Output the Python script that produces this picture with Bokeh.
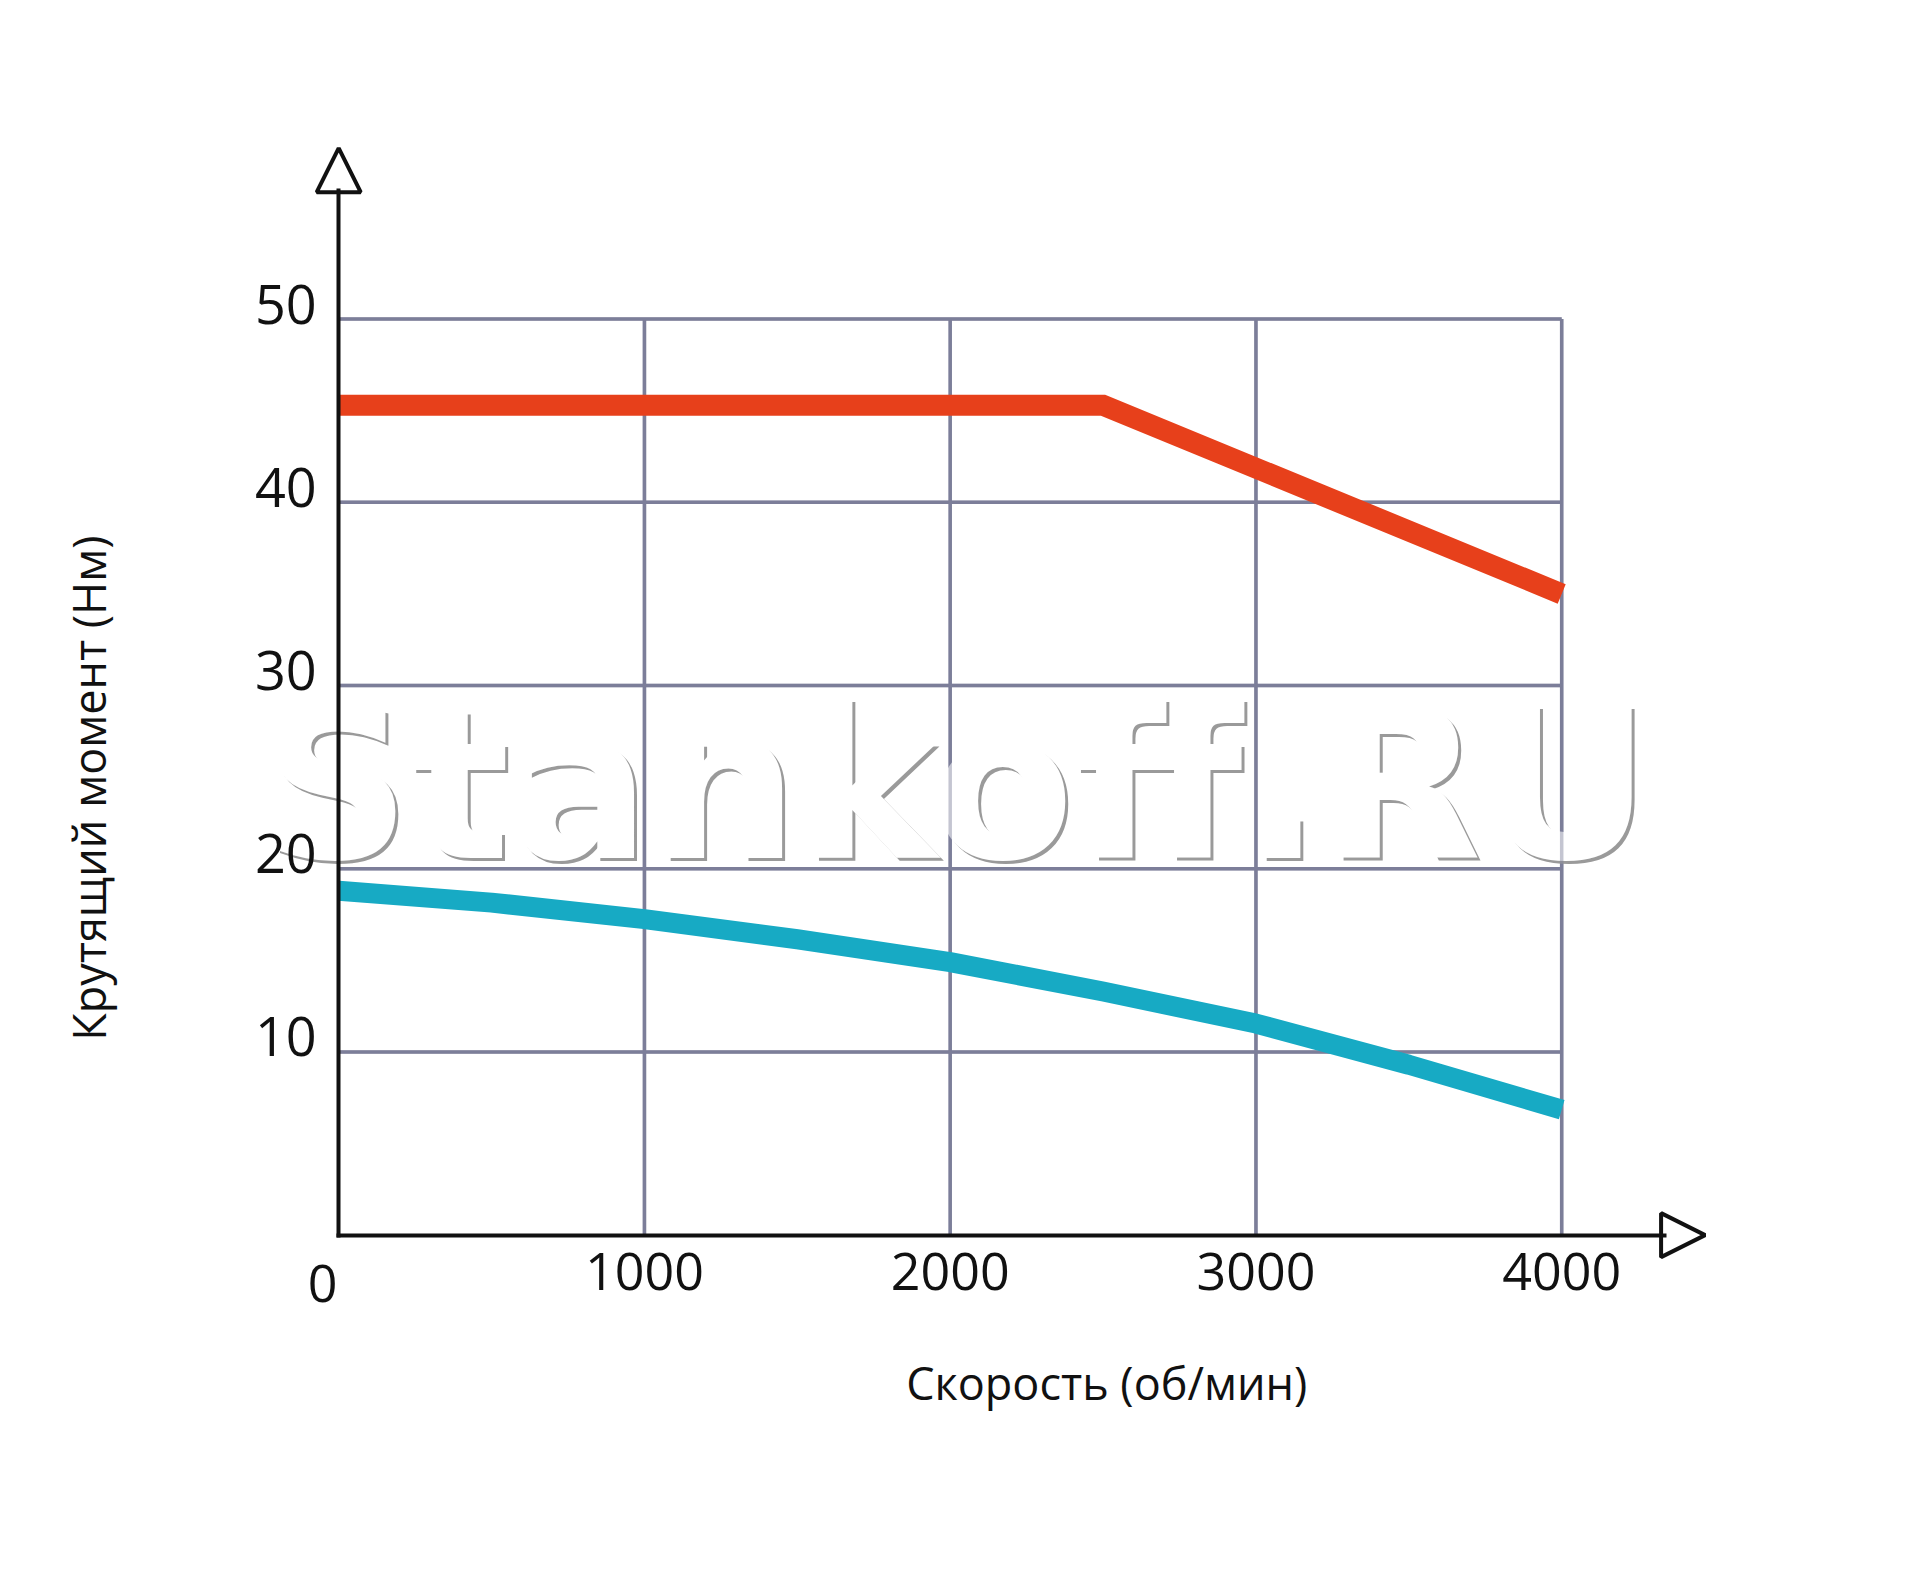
import numpy as np
from bokeh.plotting import figure
from bokeh.models import Range1d, FixedTicker, Arrow, NormalHead
from bokeh.embed import file_html
from bokeh.resources import INLINE
from bokeh.core.properties import value

# ---- data ----
speed_ticks = [1000, 2000, 3000, 4000]          # об/мин
torque_ticks = [10, 20, 30, 40, 50]             # Нм
torque_labels = ["10", "20", "30", "40", "50"]

red_speed = [0, 2500, 4000]
red_torque = [45.3, 45.3, 35.0]

teal_speed = [0, 500, 1000, 1500, 2000, 2500, 3000, 3500, 4000]
teal_torque = [18.8, 18.15, 17.25, 16.15, 14.9, 13.3, 11.55, 9.3, 6.85]

x_title = "Скорость (об/мин)"
y_title = "Крутящий момент (Нм)"
origin_label = "0"
watermark = "Stankoff.RU"

# ---- styles ----
INK = "#111111"
GRID = "#7C7F9A"
RED = "#E7401B"
TEAL = "#17AAC4"
FONT = "Open Sans"

p = figure(width=1900, height=1560,
           x_range=Range1d(-975.3, 5042.7), y_range=Range1d(-11.21, 66.30),
           output_backend="svg", toolbar_location=None,
           min_border_left=40, min_border_right=20,
           min_border_top=20, min_border_bottom=120)
p.background_fill_color = "white"
p.border_fill_color = "white"
p.outline_line_color = None
p.xgrid.visible = False
p.ygrid.visible = False

x_max = max(speed_ticks)
y_max = max(torque_ticks)

def draw_grid(alpha):
    p.segment(x0=speed_ticks, y0=[0] * len(speed_ticks),
              x1=speed_ticks, y1=[y_max] * len(speed_ticks),
              line_color=GRID, line_width=3.5, line_alpha=alpha)
    p.segment(x0=[0] * len(torque_ticks), y0=torque_ticks,
              x1=[x_max] * len(torque_ticks), y1=torque_ticks,
              line_color=GRID, line_width=3.5, line_alpha=alpha)

draw_grid(1.0)

# watermark (shadow + white face); grid shows faintly through it
wm_x, wm_y = 2018, 24.49
wm_style = dict(text_font=value("DejaVu Sans"), text_font_style="bold",
                text_font_size="208px", text_align="center", text_baseline="middle")
p.text(x=[wm_x], y=[wm_y], text=[watermark], text_color="#9a9a9a",
       x_offset=3, y_offset=3, **wm_style)
p.text(x=[wm_x], y=[wm_y], text=[watermark], text_color="white", **wm_style)
draw_grid(0.45)

# data lines
p.line(teal_speed, teal_torque, line_color=TEAL, line_width=20,
       line_cap="butt", line_join="round")
p.line(red_speed, red_torque, line_color=RED, line_width=21,
       line_cap="butt", line_join="miter")

# x axis (Bokeh axis at y = 0)
xa = p.xaxis[0]
xa.ticker = FixedTicker(ticks=speed_ticks)
xa.fixed_location = 0
xa.bounds = (0, 4335)
xa.axis_line_color = INK
xa.axis_line_width = 4
xa.axis_line_cap = "square"
xa.major_tick_line_color = None
xa.minor_tick_line_color = None
xa.major_label_text_font = FONT
xa.major_label_text_font_size = "52px"
xa.major_label_text_color = INK
xa.major_label_standoff = 12

# y axis line (Bokeh axis at x = 0); its labels sit above the grid lines
ya = p.yaxis[0]
ya.ticker = FixedTicker(ticks=[])
ya.fixed_location = 0
ya.bounds = (0, 57.0)
ya.axis_line_color = INK
ya.axis_line_width = 4
ya.axis_line_cap = "square"
ya.major_tick_line_color = None
ya.minor_tick_line_color = None
ya.major_label_standoff = 0

p.text(x=[0] * len(torque_ticks), y=torque_ticks, text=torque_labels,
       text_font=value(FONT), text_font_size="54px", text_color=INK,
       text_align="right", text_baseline="middle", x_offset=-22, y_offset=-15)

# arrow heads
p.add_layout(Arrow(end=NormalHead(size=44, fill_alpha=0, line_color=INK, line_width=4),
                   x_start=0, y_start=56.0, x_end=0, y_end=59.33, line_alpha=0))
p.add_layout(Arrow(end=NormalHead(size=44, fill_alpha=0, line_color=INK, line_width=4),
                   x_start=4300, y_start=0, x_end=4469, y_end=0, line_alpha=0))

# origin label and axis titles
p.text(x=[0], y=[0], text=[origin_label], text_font=value(FONT),
       text_font_size="52px", text_color=INK, text_align="center",
       text_baseline="middle", x_offset=-16, y_offset=48)
p.text(x=[2512], y=[0], text=[x_title], text_font=value(FONT),
       text_font_size="45px", text_color=INK, text_align="center",
       text_baseline="middle", y_offset=147)
p.text(x=[0], y=[24.4], text=[y_title], text_font=value(FONT),
       text_font_size="45px", text_color=INK, text_align="center",
       text_baseline="middle", x_offset=-250, angle=np.pi / 2)

open("out.html", "w").write(file_html(p, INLINE))
